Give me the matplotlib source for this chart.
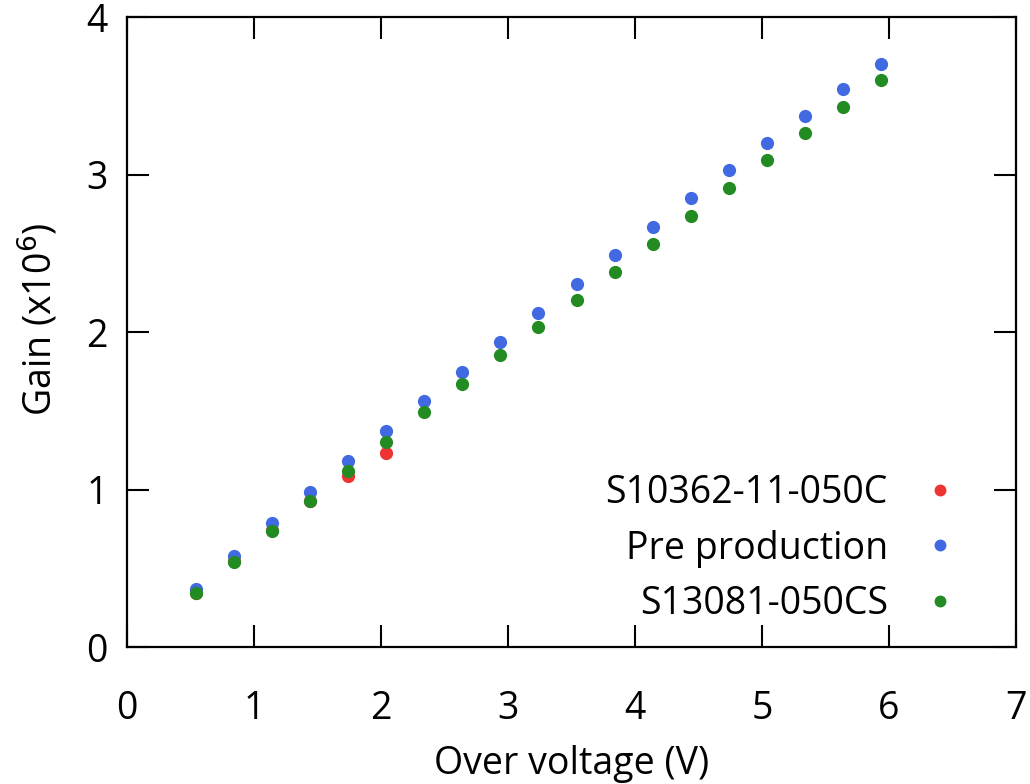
import matplotlib
matplotlib.use("Agg")
import matplotlib.pyplot as plt

plt.rcParams['font.family'] = ['Open Sans', 'DejaVu Sans']

# Data
over_voltage = [0.54, 0.84, 1.14, 1.44, 1.74, 2.04, 2.34, 2.64, 2.94, 3.24,
                3.54, 3.84, 4.14, 4.44, 4.74, 5.04, 5.34, 5.64, 5.94]
gain_pre = [0.370, 0.575, 0.786, 0.983, 1.179, 1.369, 1.562, 1.746, 1.937, 2.121,
            2.305, 2.489, 2.667, 2.851, 3.029, 3.200, 3.371, 3.543, 3.700]
gain_s13081 = [0.341, 0.542, 0.737, 0.927, 1.117, 1.302, 1.492, 1.670, 1.854, 2.032,
               2.203, 2.381, 2.559, 2.737, 2.914, 3.092, 3.263, 3.429, 3.600]
ov_s10362 = [0.54, 0.84, 1.14, 1.44, 1.74, 2.04]
gain_s10362 = [0.345, 0.545, 0.742, 0.925, 1.086, 1.234]

labels = ["S10362-11-050C", "Pre production", "S13081-050CS"]
colors = ["#ee3333", "#4169e1", "#228b22"]

fig = plt.figure(figsize=(10.30, 7.84), dpi=100)
ax = fig.add_axes([0.1233, 0.1747, 0.8631, 0.8036])

ms = 9.5
ax.plot(ov_s10362, gain_s10362, 'o', color=colors[0], ms=ms, mec='none', label=labels[0])
ax.plot(over_voltage, gain_pre, 'o', color=colors[1], ms=ms, mec='none', label=labels[1])
ax.plot(over_voltage, gain_s13081, 'o', color=colors[2], ms=ms, mec='none', label=labels[2])

ax.set_xlim(0, 7)
ax.set_ylim(0, 4)
ax.set_xticks(range(0, 8))
ax.set_yticks(range(0, 5))
fs = 27
ax.tick_params(direction='in', length=16, width=1.5, top=True, right=True,
               labelsize=fs, colors='black')
ax.tick_params(axis='x', pad=31)
ax.tick_params(axis='y', pad=14)
for s in ax.spines.values():
    s.set_linewidth(1.6)

ax.set_xlabel("Over voltage (V)", fontsize=fs, labelpad=12)
ax.set_ylabel("Gain (x10$^6$)", fontsize=fs, labelpad=18)
ax.yaxis.label.set_y(0.52)

leg = ax.legend(loc='lower right', markerfirst=False, frameon=False, fontsize=fs,
                handlelength=1.0, handletextpad=0.9, labelspacing=0.47,
                borderaxespad=0.0, bbox_to_anchor=(0.953, 0.014), markerscale=0.9)

fig.savefig("out.png", dpi=100)
